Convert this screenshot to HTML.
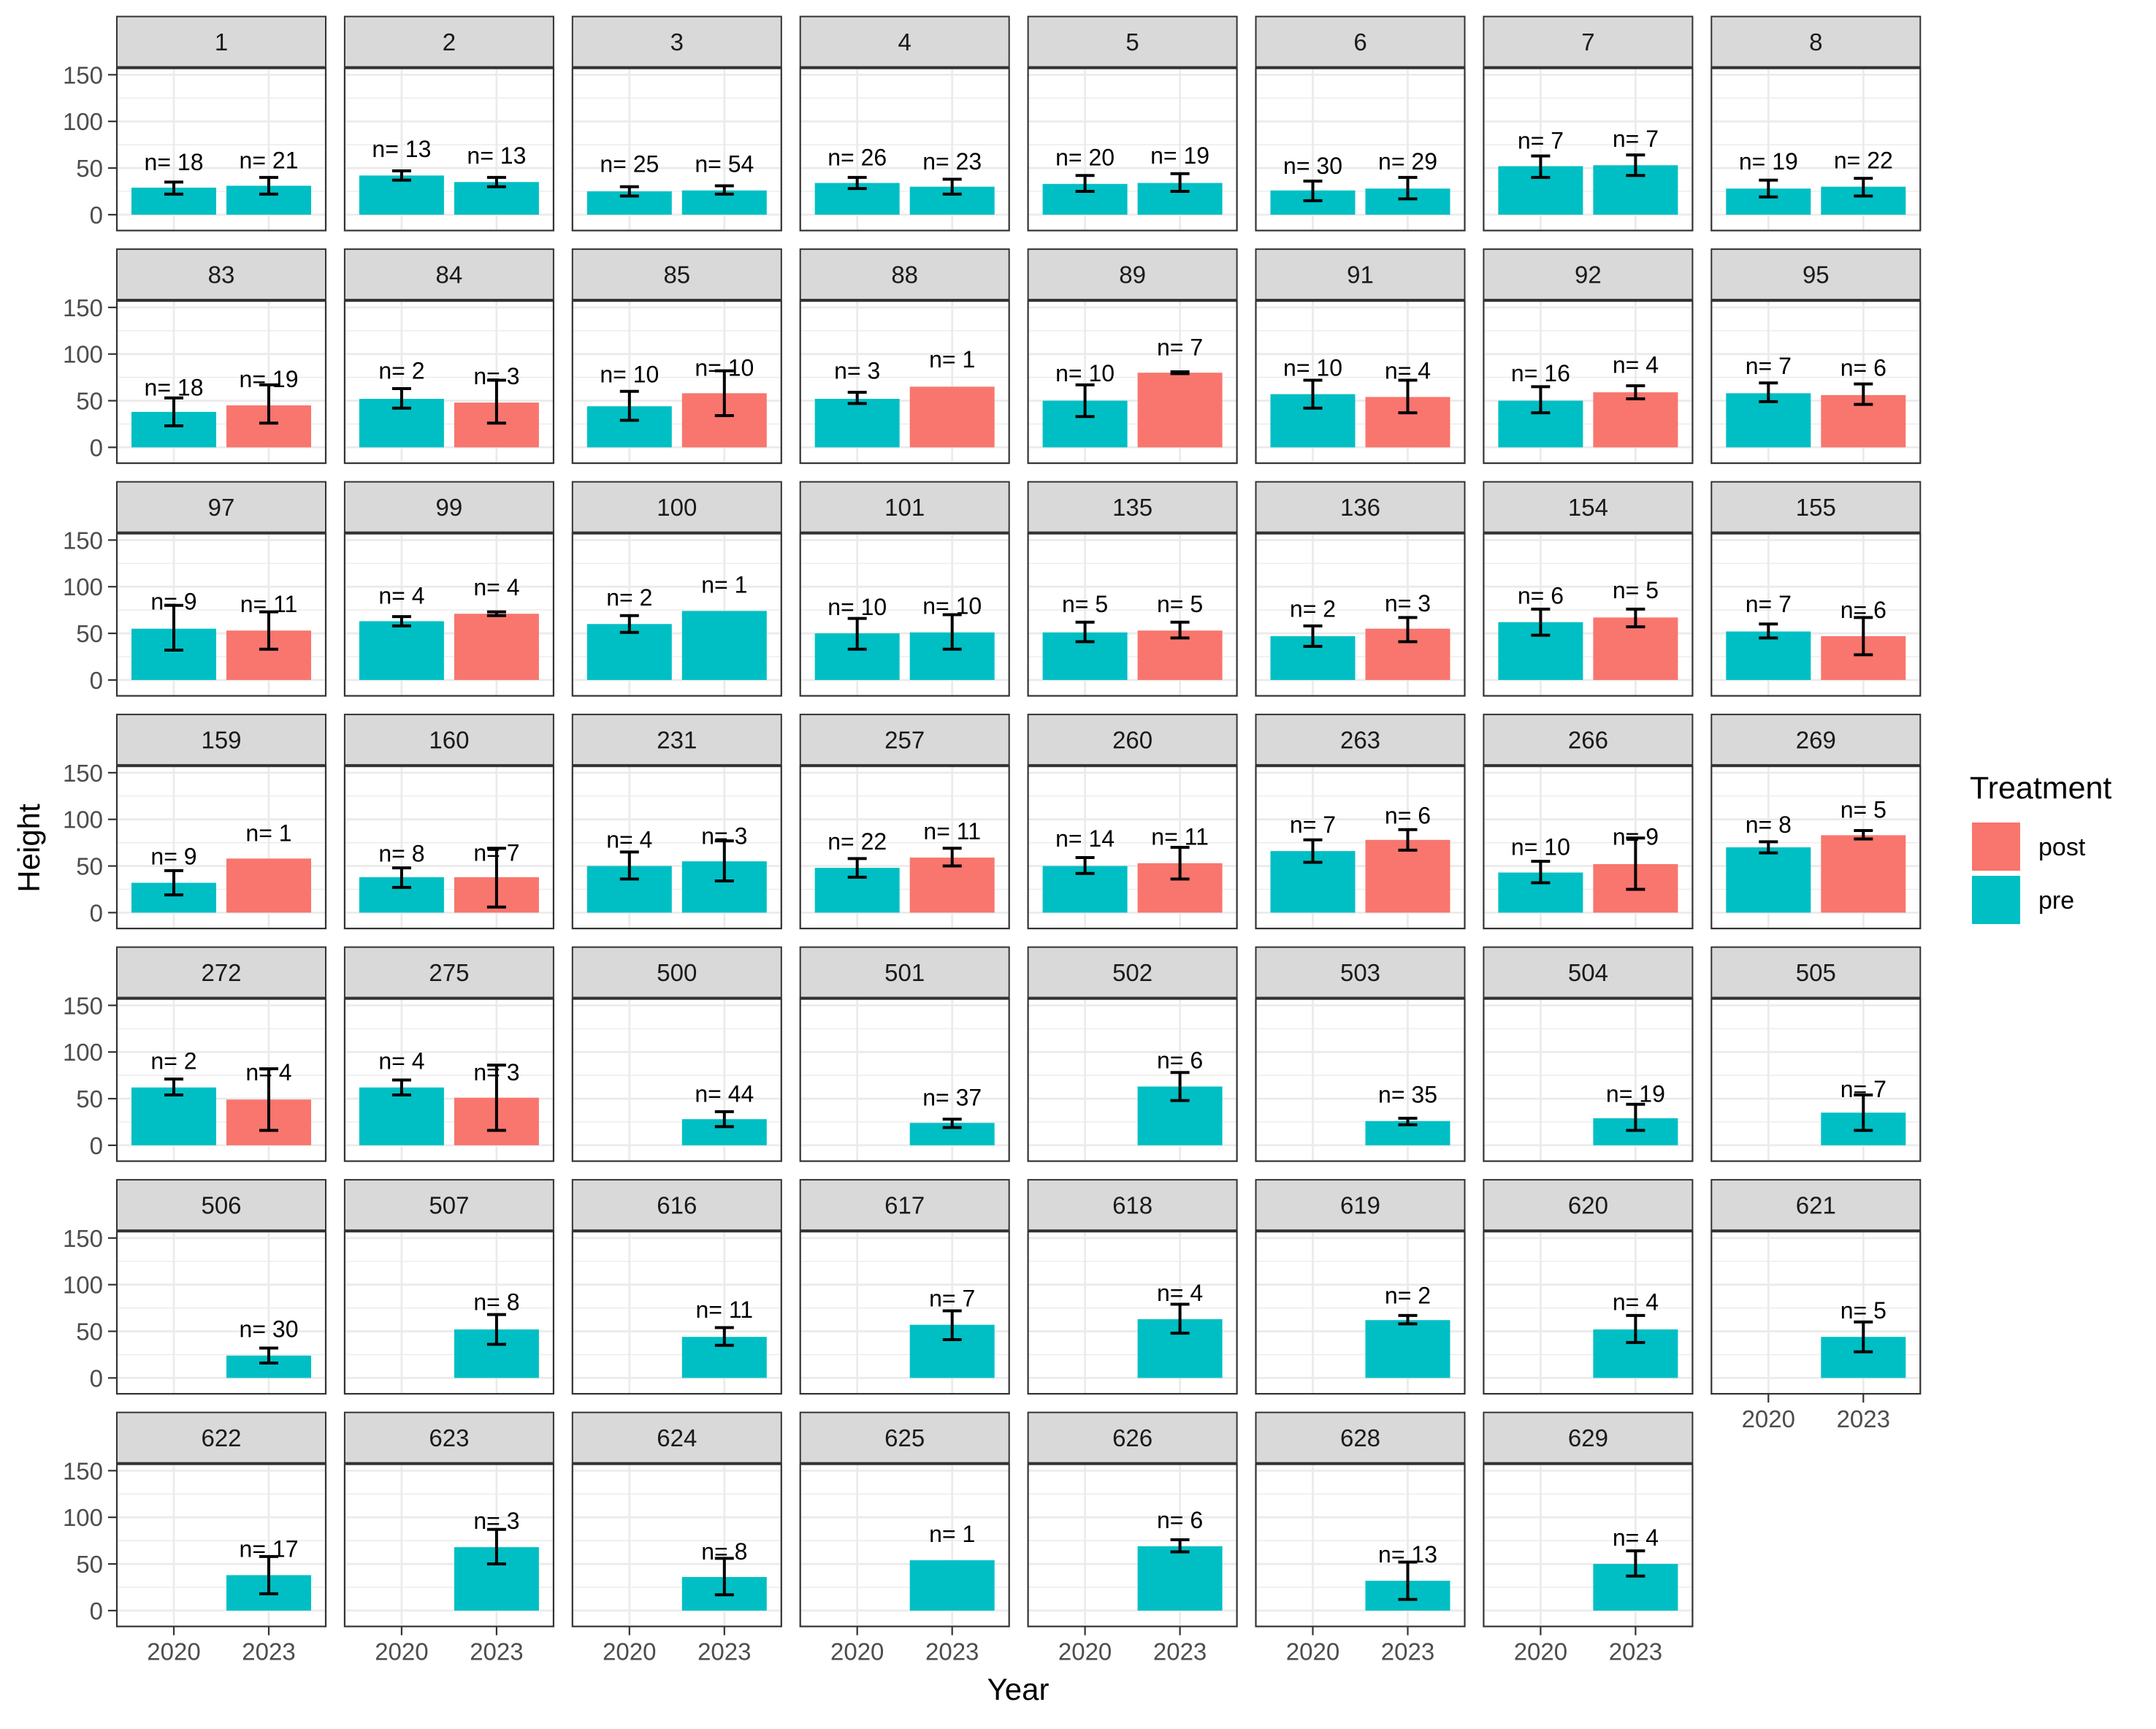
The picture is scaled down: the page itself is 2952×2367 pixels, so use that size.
<!DOCTYPE html>
<html><head><meta charset="utf-8"><style>
html,body{margin:0;padding:0;background:#fff;}
svg text{font-family:"Liberation Sans",Arial,sans-serif;}
</style></head><body>
<svg id="chart" xmlns="http://www.w3.org/2000/svg" width="2952" height="2362" viewBox="0 0 2952 2362"></svg>
<script>
// ---- data ----
const panelIds = ["1","2","3","4","5","6","7","8","83","84","85","88","89","91","92","95","97","99","100","101","135","136","154","155","159","160","231","257","260","263","266","269","272","275","500","501","502","503","504","505","506","507","616","617","618","619","620","621","622","623","624","625","626","628","629"];
// per panel: 2020 bar [treatment, mean, lo, hi, n, labelY] or null; 2023 bar same
const bars2020 = [
["pre",29,22,35,18,57],["pre",42,37,47,13,71],["pre",25,20,30,25,55],["pre",34,28,40,26,62],["pre",33,25,42,20,62],["pre",26,15,36,30,53],["pre",52,40,63,7,80],["pre",28,19,37,19,58],
["pre",38,23,53,18,65],["pre",52,42,63,2,83],["pre",44,29,60,10,79],["pre",52,47,59,3,83],["pre",50,33,67,10,80],["pre",57,42,72,10,86],["pre",50,37,65,16,80],["pre",58,49,69,7,88],
["pre",55,32,80,9,85],["pre",63,58,68,4,91],["pre",60,51,69,2,89],["pre",50,33,66,10,79],["pre",51,41,62,5,82],["pre",47,36,58,2,77],["pre",62,48,76,6,91],["pre",52,45,60,7,82],
["pre",32,19,45,9,61],["pre",38,27,48,8,64],["pre",50,36,65,4,79],["pre",48,38,58,22,77],["pre",50,42,59,14,80],["pre",66,54,78,7,95],["pre",43,32,55,10,71],["pre",70,64,76,8,95],
["pre",62,54,71,2,91],["pre",62,54,70,4,91],null,null,null,null,null,null,
null,null,null,null,null,null,null,null,
null,null,null,null,null,null,null];
const bars2023 = [
["pre",31,22,40,21,59],["pre",35,30,40,13,64],["pre",26,22,31,54,55],["pre",30,22,38,23,58],["pre",34,25,44,19,64],["pre",28,17,40,29,58],["pre",53,42,64,7,82],["pre",30,20,39,22,59],
["post",45,26,67,19,74],["post",48,26,72,3,77],["post",58,34,82,10,86],["post",65,null,null,1,95],["post",80,79,81,7,108],["post",54,37,72,4,83],["post",59,52,66,4,89],["post",56,46,68,6,86],
["post",53,33,73,11,82],["post",71,69,73,4,100],["pre",74,null,null,1,103],["pre",51,33,70,10,80],["post",53,45,62,5,82],["post",55,41,67,3,83],["post",67,57,76,5,97],["post",47,27,67,6,76],
["post",58,null,null,1,86],["post",38,6,69,7,65],["pre",55,34,77,3,83],["post",59,50,69,11,88],["post",53,36,70,11,82],["post",78,67,89,6,105],["post",52,25,80,9,82],["post",83,79,88,5,111],
["post",49,16,82,4,79],["post",51,16,86,3,79],["pre",28,20,36,44,56],["pre",24,19,28,37,52],["pre",63,48,78,6,92],["pre",26,22,29,35,55],["pre",29,16,44,19,56],["pre",35,16,54,7,61],
["pre",24,16,32,30,53],["pre",52,36,68,8,82],["pre",44,35,54,11,74],["pre",57,41,72,7,86],["pre",63,48,79,4,92],["pre",62,58,67,2,89],["pre",52,38,67,4,82],["pre",44,28,60,5,73],
["pre",38,18,58,17,67],["pre",68,50,87,3,97],["pre",36,17,56,8,64],["pre",54,null,null,1,83],["pre",69,63,76,6,98],["pre",32,12,52,13,61],["pre",50,37,64,4,79]];
const yTicks = [0,50,100,150];
const xCats = ["2020","2023"];
const legendLabels = ["post","pre"];

// ---- layout ----
const NS="http://www.w3.org/2000/svg";
const svg=document.getElementById('chart');
const colors={pre:"#00BFC4",post:"#F8766D"};
const L0=160, PITCH_X=311.9, PW=286, T0=22.6, PITCH_Y=318.5, STRIP_H=69, PTOP=71, PBOT=293;
const Y0=271.3, PXU=1.277; // y=0 offset from strip top, px per unit
function mk(tag,attrs,parent){const e=document.createElementNS(NS,tag);for(const k in attrs)e.setAttribute(k,attrs[k]);(parent||svg).appendChild(e);return e;}
function yPos(v,top){return top+Y0-v*PXU;}
function xPos(i,left){return left+78+i*130;}
const nPanels=panelIds.length;
for(let p=0;p<nPanels;p++){
  const r=Math.floor(p/8), c=p%8;
  const left=L0+c*PITCH_X, top=T0+r*PITCH_Y;
  const g=mk('g',{});
  
  
  const st=mk('rect',{x:left,y:top,width:PW,height:STRIP_H,fill:"#D9D9D9",stroke:"#333",'stroke-width':2},g);
  
  
  const stt=mk('text',{x:left+PW/2,y:top+STRIP_H/2+12,'text-anchor':'middle','font-size':33,fill:"#1A1A1A"},g);
  stt.textContent=panelIds[p];
  
  
  const pt=top+PTOP, pb=top+PBOT;
  mk('rect',{x:left,y:pt,width:PW,height:pb-pt,fill:"#fff"},g);
  [25,75,125].forEach(v=>mk('line',{x1:left,x2:left+PW,y1:yPos(v,top),y2:yPos(v,top),stroke:"#EBEBEB",'stroke-width':1.4},g));
  yTicks.forEach(v=>mk('line',{x1:left,x2:left+PW,y1:yPos(v,top),y2:yPos(v,top),stroke:"#EBEBEB",'stroke-width':2.8},g));
  xCats.forEach((cat,i)=>mk('line',{x1:xPos(i,left),x2:xPos(i,left),y1:pt,y2:pb,stroke:"#EBEBEB",'stroke-width':2.8},g));
  [bars2020[p],bars2023[p]].forEach((b,i)=>{
    if(!b)return;
    const cx=xPos(i,left);
    const y=yPos(b[1],top), y0=yPos(0,top);
    const rc=mk('rect',{x:cx-58,y:y,width:116,height:y0-y,fill:colors[b[0]]},g);
    
    
    if(b[2]!==null){
      const ylo=yPos(b[2],top), yhi=yPos(b[3],top);
      const eg=mk('g',{stroke:"#000",'stroke-width':4},g);
      
      
      mk('line',{x1:cx,x2:cx,y1:ylo,y2:yhi},eg);
      mk('line',{x1:cx-13,x2:cx+13,y1:ylo,y2:ylo},eg);
      mk('line',{x1:cx-13,x2:cx+13,y1:yhi,y2:yhi},eg);
    }
    const t=mk('text',{x:cx,y:yPos(b[5],top)+12,'text-anchor':'middle','font-size':32,fill:"#000"},g);
    t.textContent='n= '+b[4];
    
    
  });
  mk('rect',{x:left,y:pt,width:PW,height:pb-pt,fill:"none",stroke:"#333",'stroke-width':2.2},g);
  if(c===0){
    yTicks.forEach(v=>{
      const yy=yPos(v,top);
      mk('line',{x1:left-12,x2:left,y1:yy,y2:yy,stroke:"#333",'stroke-width':2.2});
      const t=mk('text',{x:left-19,y:yy+12,'text-anchor':'end','font-size':33,fill:"#4D4D4D"});
      t.textContent=v;
      
      
    });
  }
  const isBottom = (p+8>=nPanels);
  if(isBottom){
    xCats.forEach((cat,i)=>{
      const xx=xPos(i,left);
      mk('line',{x1:xx,x2:xx,y1:pb,y2:pb+12,stroke:"#333",'stroke-width':2.2});
      const t=mk('text',{x:xx,y:pb+46,'text-anchor':'middle','font-size':33,fill:"#4D4D4D"});
      t.textContent=cat;
      
      
    });
  }
}
const yt=mk('text',{x:0,y:0,transform:'translate(54,1161) rotate(-90)','text-anchor':'middle','font-size':42,fill:"#000"});
yt.textContent='Height';


const xt=mk('text',{x:1394,y:2327,'text-anchor':'middle','font-size':42,fill:"#000"});
xt.textContent='Year';


const lg=mk('g',{});


const lt=mk('text',{x:2697,y:1093,'font-size':43,fill:"#000"},lg);
lt.textContent='Treatment';


legendLabels.forEach((lab,i)=>{
  const ky=1124+i*73;
  const kr=mk('rect',{x:2700,y:ky+2,width:66,height:66,fill:colors[lab]},lg);
  
  
  const tx=mk('text',{x:2791,y:ky+47,'font-size':34,fill:"#000"},lg);
  tx.textContent=lab;
  
  
});
</script>
</body></html>
